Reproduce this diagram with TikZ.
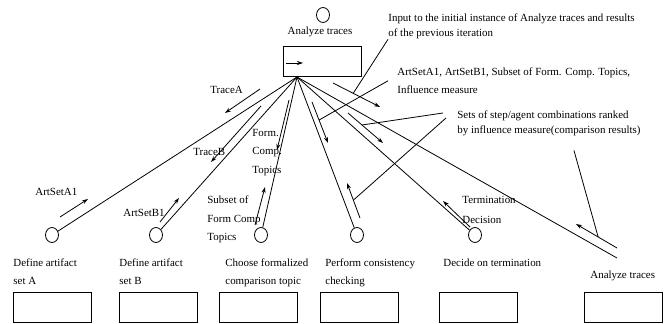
\documentclass[tikz,border=0pt]{standalone}
\usepackage{fontspec}
\setmainfont{Liberation Serif}
\usetikzlibrary{shapes.geometric,arrows.meta,calc}
\tikzstyle{port} = [ellipse, draw=black, inner sep=0pt, minimum width=9.75pt, minimum height=11.25pt]
\tikzstyle{act} = [rectangle, draw=black, inner sep=0pt, minimum width=58.5pt, minimum height=22.5pt]
\tikzstyle{lbl} = [anchor=north west, inner sep=0pt, align=left, font=\fontsize{8.2}{13.5}\selectfont]
\tikzstyle{flow} = [-{Stealth[length=4.5pt,width=3pt]}]

\begin{document}
\begin{tikzpicture}[x=0.75pt,y=-0.75pt,line width=0.6pt]
			\useasboundingbox (0,0) rectangle (667,324);
			\node[port] (top) at (323,15) {};
			\node[lbl, anchor=center] (toplbl) at (320,32) {Analyze traces};
			\node[act] (topbox) at (322.5,61.5) {};
			\draw[flow] (286,63) -- (303,63);
			\coordinate (hub) at (297,77);
			\coordinate (fend) at (617,258);
			\foreach \n/\x in {A/52,B/156,C/261,D/357,E/475}
				\node[port] (p\n) at (\x,235) {};
			\foreach \n/\x in {A/52.5,B/158,C/258.5,D/359,E/478.5,F/623.5}
				\node[act] (b\n) at (\x,307) {};
			\foreach \n in {A,B,C,D,E}
				\draw (hub) -- (p\n);
			\draw (hub) -- (fend);
			\node[lbl] (lA) at (13,258.5) {Define artifact\\set A};
			\node[lbl] (lB) at (119,258.5) {Define artifact\\set B};
			\node[lbl] (lC) at (225,258.5) {Choose formalized\\comparison topic};
			\node[lbl] (lD) at (325,258.5) {Perform consistency\\checking};
			\node[lbl] (lE) at (443,258.5) {Decide on termination};
			\node[lbl] (lF) at (590,270.5) {Analyze traces};
			\node[lbl] (tA) at (210,85.5) {TraceA};
			\node[lbl] (tB) at (193,147.5) {TraceB};
			\node[lbl] (aA) at (35,187.5) {ArtSetA1};
			\node[lbl] (aB) at (123,208.5) {ArtSetB1};
			\node[lbl, font=\fontsize{8.2}{13.9}\selectfont] (fct) at (252,128.5) {Form.\\Comp.\\Topics};
			\node[lbl, font=\fontsize{8.2}{13.9}\selectfont] (sub) at (207,195.5) {Subset of\\Form Comp\\Topics};
			\node[lbl, font=\fontsize{8.2}{15}\selectfont] (term) at (462,195.5) {Termination\\Decision};
			\node[lbl, font=\fontsize{8.2}{11.25}\selectfont] (inp) at (388,13.5) {Input to the initial instance of Analyze traces and results\\of the previous iteration};
			\node[lbl] (arts) at (397,67.5) {ArtSetA1, ArtSetB1, Subset of Form. Comp. Topics,\\Influence measure};
			\node[lbl, font=\fontsize{8.2}{11.25}\selectfont] (sets) at (457,110.5) {Sets of step/agent combinations ranked\\by influence measure(comparison results)};
			\draw[flow] (260,89) -- (225,113);
			\draw[flow] (261,106) -- (211,162);
			\draw[flow] (60,217) -- (88,199);
			\draw[flow] (160,222) -- (179,198);
			\draw[flow] (289,100) -- (277,150);
			\draw[flow] (255,225) -- (265,187);
			\draw[flow] (312,102) -- coordinate[pos=.44] (dIn) (328,143);
			\draw[flow] (360,218) -- coordinate[pos=.51] (dOut) (347,183);
			\draw[flow] (333,83) -- coordinate[pos=.43] (fIn) (380,107);
			\draw[flow] (348,113) -- coordinate[pos=.4] (eIn) (383,143);
			\draw[flow] (470,227) -- (443,201);
			\draw[flow] (617,248) -- coordinate[pos=.46] (fOut) (576,224);
			\draw (inp.south west) -- (fIn);
			\draw ($(arts.west)+(-9,0)$) -- (dIn);
			\draw ($(sets.north west)+(-14,2.5)$) -- (eIn);
			\draw ($(sets.north west)+(-11,7.5)$) -- (dOut);
			\draw ($(sets.south)+(25,14)$) -- (fOut);
		\end{tikzpicture}
\end{document}
